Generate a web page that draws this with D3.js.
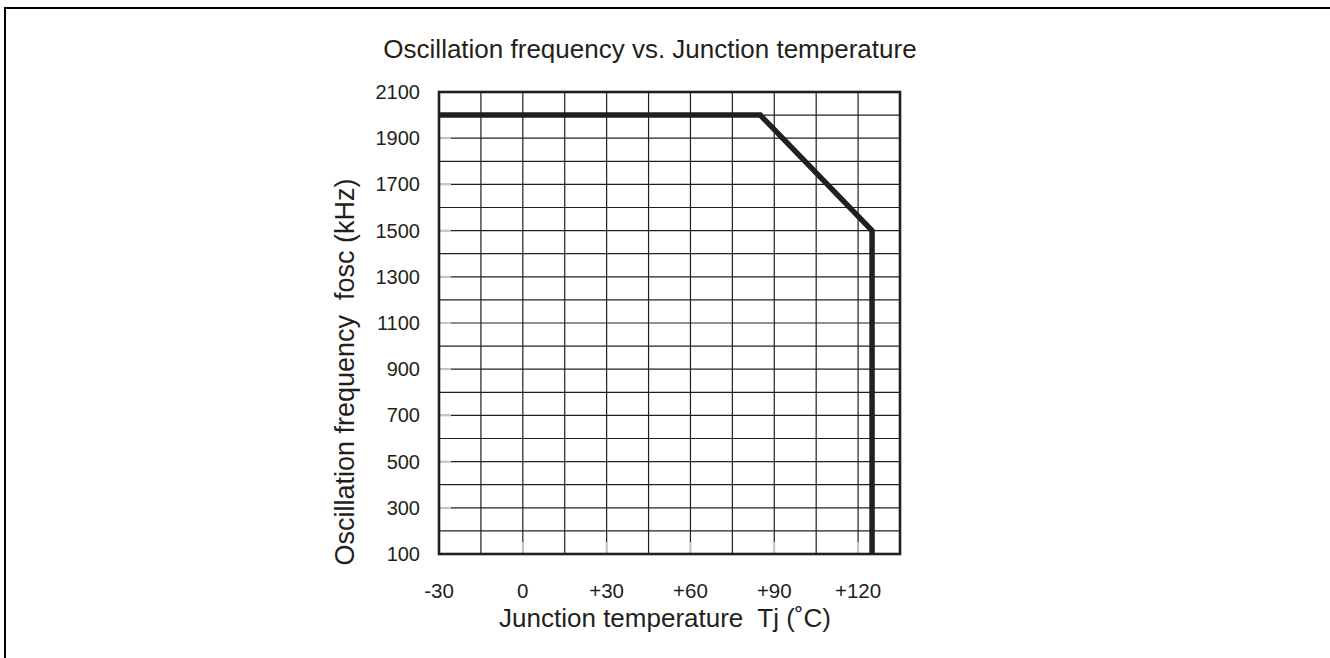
<!DOCTYPE html>
<html>
<head>
<meta charset="utf-8">
<script src="https://cdn.jsdelivr.net/npm/d3@7"></script>
<style>
  html, body { margin: 0; padding: 0; background: #fff; }
  svg { display: block; }
  text { font-family: "Liberation Sans", Arial, Helvetica, sans-serif; fill: #231f20; }
</style>
</head>
<body>
<svg id="chart" width="1330" height="658"></svg>
<script>
const width = 1330;
const height = 658;

// tick values and labels
const tempTicks = [-30, 0, 30, 60, 90, 120];
const tempLabels = ["-30", "0", "+30", "+60", "+90", "+120"];
const freqTicks = [100, 300, 500, 700, 900, 1100, 1300, 1500, 1700, 1900, 2100];

// curve
const curveTemp = [-30, 85, 125, 125];
const curveFreq = [2000, 2000, 1500, 100];

const svg = d3.select("#chart");

// outer frame (only top and left edges fall inside the window)
svg.append("rect")
    .attr("x", 5).attr("y", 8)
    .attr("width", width + 20).attr("height", height + 20)
    .attr("fill", "none")
    .attr("stroke", "#000")
    .attr("stroke-width", 2);

const x = d3.scaleLinear().domain([-30, 135]).range([439, 900]);
const y = d3.scaleLinear().domain([100, 2100]).range([554, 92]);

const g = svg.append("g");

// grid: columns every 15 degrees, rows every 100 kHz
g.selectAll("line.vgrid")
    .data(d3.range(-15, 135, 15))
    .enter().append("line")
    .attr("class", "vgrid")
    .attr("x1", d => x(d)).attr("x2", d => x(d))
    .attr("y1", y(100)).attr("y2", y(2100))
    .attr("stroke", "#231f20")
    .attr("stroke-width", 1.2);

g.selectAll("line.hgrid")
    .data(d3.range(200, 2100, 100))
    .enter().append("line")
    .attr("class", "hgrid")
    .attr("x1", x(-30)).attr("x2", x(135))
    .attr("y1", d => y(d)).attr("y2", d => y(d))
    .attr("stroke", "#231f20")
    .attr("stroke-width", 1.2);

// faint inner ticks
g.selectAll("line.ytick")
    .data(freqTicks.slice(1, -1))
    .enter().append("line")
    .attr("x1", x(-30)).attr("x2", x(-30) + 12)
    .attr("y1", d => y(d)).attr("y2", d => y(d))
    .attr("stroke", "#c8c8c8")
    .attr("stroke-width", 2);

g.selectAll("line.xtick")
    .data(tempTicks.slice(1))
    .enter().append("line")
    .attr("x1", d => x(d)).attr("x2", d => x(d))
    .attr("y1", y(100)).attr("y2", y(100) - 12)
    .attr("stroke", "#c8c8c8")
    .attr("stroke-width", 2);

// plot frame
g.append("rect")
    .attr("x", x(-30)).attr("y", y(2100))
    .attr("width", x(135) - x(-30))
    .attr("height", y(100) - y(2100))
    .attr("fill", "none")
    .attr("stroke", "#231f20")
    .attr("stroke-width", 2.6);

// curve
const line = d3.line()
    .x((d, i) => x(curveTemp[i]))
    .y(d => y(d));

g.append("path")
    .datum(curveFreq)
    .attr("d", line)
    .attr("fill", "none")
    .attr("stroke", "#231f20")
    .attr("stroke-width", 5.5)
    .attr("stroke-linejoin", "miter");

// tick labels
g.selectAll("text.ylab")
    .data(freqTicks)
    .enter().append("text")
    .attr("x", 420)
    .attr("y", d => y(d) + 7)
    .attr("text-anchor", "end")
    .attr("font-size", 20)
    .text(d => d);

g.selectAll("text.xlab")
    .data(tempTicks)
    .enter().append("text")
    .attr("x", d => x(d))
    .attr("y", 598)
    .attr("text-anchor", "middle")
    .attr("font-size", 20.5)
    .text((d, i) => tempLabels[i]);

// titles
svg.append("text")
    .attr("x", 650).attr("y", 58)
    .attr("text-anchor", "middle")
    .attr("font-size", 26)
    .text("Oscillation frequency vs. Junction temperature");

svg.append("text")
    .attr("x", 665).attr("y", 627)
    .attr("text-anchor", "middle")
    .attr("font-size", 26)
    .attr("xml:space", "preserve")
    .text("Junction temperature  Tj (˚C)");

svg.append("text")
    .attr("transform", "translate(354,372) rotate(-90)")
    .attr("text-anchor", "middle")
    .attr("font-size", 27)
    .attr("xml:space", "preserve")
    .text("Oscillation frequency  fosc (kHz)");
</script>
</body>
</html>
